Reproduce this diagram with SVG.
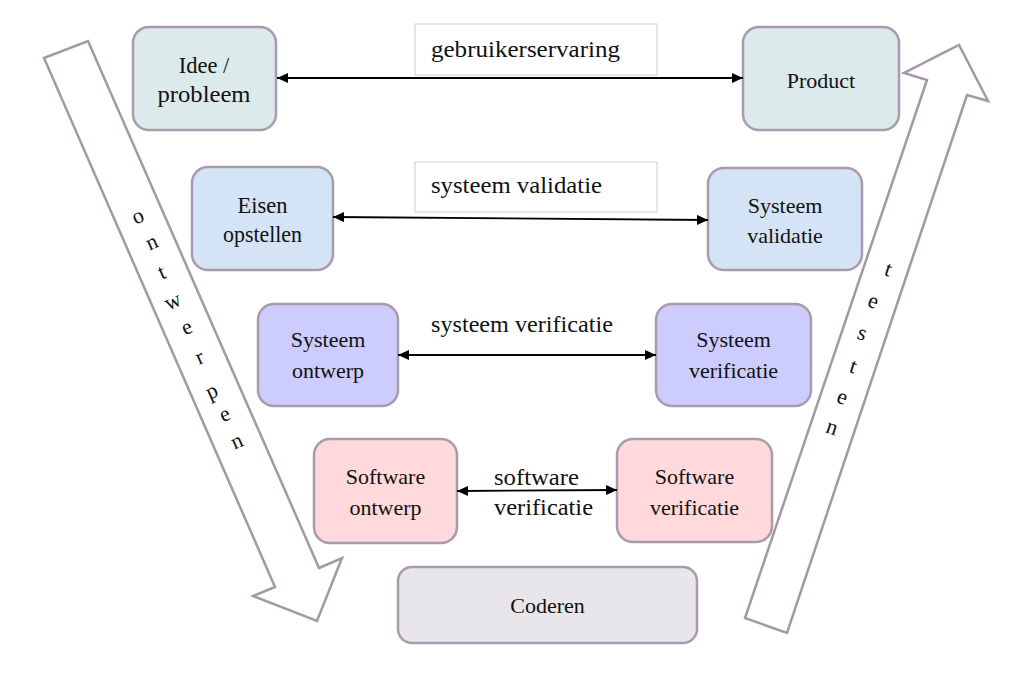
<svg xmlns="http://www.w3.org/2000/svg" width="1024" height="697" viewBox="0 0 1024 697">
<style>
.box{stroke:#A99BAB;stroke-width:2.5}
.big{fill:#ffffff;stroke:#A498A8;stroke-width:2.5;stroke-linejoin:miter}
.lbl{fill:#ffffff;stroke:#CCCCCC;stroke-width:1}
.t{font-family:"Liberation Serif","Times New Roman",serif;font-size:22px;fill:#111111;text-anchor:middle}
.p{font-family:"Liberation Serif","Times New Roman",serif;font-size:22.5px;fill:#111111}
.pc{text-anchor:middle}
.con{stroke:#000000;stroke-width:1.8;fill:none;marker-start:url(#ah);marker-end:url(#ah)}
.c1{fill:#DDEAEC}.c2{fill:#D4E3F5}.c3{fill:#CCCCFF}.c4{fill:#FFD9DB}.c5{fill:#E8E6EA}
</style>
<defs>
<marker id="ah" markerUnits="userSpaceOnUse" markerWidth="11" markerHeight="10" refX="11" refY="5" orient="auto-start-reverse">
<path d="M0,0 L11,5 L0,10 z" fill="#000000"/>
</marker>
</defs>
<rect width="1024" height="697" fill="#ffffff"/>
<g id="arrow-ontwerpen">
<polygon class="big" points="44,58 88,41 319,568 342,558 317,621 253,596 275,587"/>
<g class="t">
<text transform="translate(138,217) rotate(-24)" y="6">o</text>
<text transform="translate(152,243) rotate(-24)" y="6">n</text>
<text transform="translate(162,273) rotate(-24)" y="6">t</text>
<text transform="translate(173,302) rotate(-24)" y="6">w</text>
<text transform="translate(187,328) rotate(-24)" y="6">e</text>
<text transform="translate(200,358) rotate(-24)" y="6">r</text>
<text transform="translate(212,392) rotate(-24)" y="6">p</text>
<text transform="translate(225,415) rotate(-24)" y="6">e</text>
<text transform="translate(237,442) rotate(-24)" y="6">n</text>
</g>
</g>
<g id="arrow-testen">
<polygon class="big" points="745,618 787,633 967,95 988,101 959,45 904,73 927,80"/>
<g class="t">
<text transform="translate(888,270) rotate(19)" y="6">t</text>
<text transform="translate(873,302) rotate(19)" y="6">e</text>
<text transform="translate(862,334) rotate(19)" y="6">s</text>
<text transform="translate(853,367) rotate(19)" y="6">t</text>
<text transform="translate(842,398) rotate(19)" y="6">e</text>
<text transform="translate(832,428) rotate(19)" y="6">n</text>
</g>
</g>
<g id="node-idee">
<rect class="box c1" x="133" y="27" width="143" height="103" rx="16"/>
<text class="p pc" x="204" y="73">Idee /</text>
<text class="p pc" x="204" y="102" textLength="93" lengthAdjust="spacingAndGlyphs">probleem</text>
</g>
<g id="node-product">
<rect class="box c1" x="743" y="27" width="156" height="103" rx="16"/>
<text class="t" x="821" y="88">Product</text>
</g>
<g id="node-eisen">
<rect class="box c2" x="192" y="167" width="141" height="103" rx="16"/>
<text class="p pc" x="262.5" y="213">Eisen</text>
<text class="p pc" x="262.5" y="242" textLength="79" lengthAdjust="spacingAndGlyphs">opstellen</text>
</g>
<g id="node-systeem-validatie">
<rect class="box c2" x="708" y="168" width="154" height="102" rx="16"/>
<text class="t" x="785" y="213">Systeem</text>
<text class="t" x="785" y="243">validatie</text>
</g>
<g id="node-systeem-ontwerp">
<rect class="box c3" x="258" y="304" width="140" height="102" rx="16"/>
<text class="t" x="328" y="347">Systeem</text>
<text class="t" x="328" y="378">ontwerp</text>
</g>
<g id="node-systeem-verificatie">
<rect class="box c3" x="656" y="304" width="155" height="102" rx="16"/>
<text class="t" x="733.5" y="347">Systeem</text>
<text class="t" x="733.5" y="378">verificatie</text>
</g>
<g id="node-software-ontwerp">
<rect class="box c4" x="314" y="439" width="143" height="104" rx="16"/>
<text class="t" x="385.5" y="484">Software</text>
<text class="t" x="385.5" y="515">ontwerp</text>
</g>
<g id="node-software-verificatie">
<rect class="box c4" x="617" y="439" width="155" height="103" rx="16"/>
<text class="t" x="694.5" y="484">Software</text>
<text class="t" x="694.5" y="515">verificatie</text>
</g>
<g id="node-coderen">
<rect class="box c5" x="398" y="567" width="299" height="76" rx="14"/>
<text class="t" x="547.5" y="613">Coderen</text>
</g>
<g id="connectors">
<line class="con" x1="277" y1="78" x2="743" y2="78"/>
<line class="con" x1="333" y1="217" x2="708" y2="220"/>
<line class="con" x1="398" y1="355" x2="656" y2="355"/>
<line class="con" x1="457" y1="491" x2="617" y2="490"/>
</g>
<g id="labels">
<rect class="lbl" x="415" y="24" width="242" height="51"/>
<text class="p" x="431" y="57" textLength="189" lengthAdjust="spacingAndGlyphs">gebruikerservaring</text>
<rect class="lbl" x="415" y="162" width="242" height="50"/>
<text class="p" x="431" y="193" textLength="171" lengthAdjust="spacingAndGlyphs">systeem validatie</text>
<text class="p" x="431" y="332" textLength="182" lengthAdjust="spacingAndGlyphs">systeem verificatie</text>
<text class="p" x="494" y="485" textLength="85" lengthAdjust="spacingAndGlyphs">software</text>
<text class="p" x="494" y="515" textLength="99" lengthAdjust="spacingAndGlyphs">verificatie</text>
</g>
</svg>
